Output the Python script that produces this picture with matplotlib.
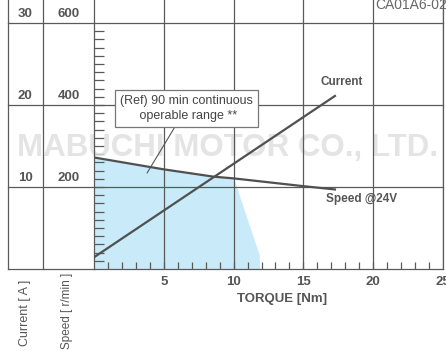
import numpy as np
import matplotlib
matplotlib.use("Agg")
from matplotlib import pyplot as plt

plt.rcParams['font.family'] = ['Liberation Sans', 'DejaVu Sans']

# data
torque_current = [0, 17.26]
current = [1.43, 21.1]

torque_speed = [0, 5, 8.6, 10, 15, 17.26]
speed = [272, 243, 225, 221, 202, 194]

# continuous operable range (torque, speed)
region_torque = [0, 5, 8.6, 10, 11.84, 11.84]
region_speed = [272, 243, 225, 221, 34, 0]

current_ticks = [10, 20, 30]
speed_ticks = [200, 400, 600]
torque_ticks = [5, 10, 15, 20, 25]

SPEED_PER_AMP = 20  # speed axis is drawn on the current scale
GRID = '#5a5a5a'
LINE = '#505050'
TXT = '#555555'

fig = plt.figure(figsize=(4.46, 3.51), dpi=100)
ax = fig.add_axes([94 / 446, 1 - 269 / 351, (443 - 94) / 446, 269 / 351])
ax.set_xlim(0, 25)
ax.set_ylim(0, 32.8)
ax.spines['top'].set_visible(False)
for s in ['left', 'right', 'bottom']:
    ax.spines[s].set_color(GRID)
    ax.spines[s].set_linewidth(0.9)

ax.set_xticks([])
ax.set_yticks([])
# minor ticks drawn inside
ax.set_xticks(np.arange(1, 25), minor=True)
ax.set_yticks(np.arange(1, 30), minor=True)
ax.tick_params(which='minor', direction='in', length=5, width=0.9, color=GRID,
               labelbottom=False, labelleft=False)
ax.tick_params(axis='y', which='minor', length=7)

# region
ry = np.array(region_speed) / SPEED_PER_AMP
ax.fill_between(region_torque, 0, ry, color='#c8eaf9', lw=0, zorder=1)

# watermark (under the lines)
ax.text(228 / 446, 1 - 148 / 351, 'MABUCHI MOTOR CO., LTD.', transform=fig.transFigure,
        ha='center', va='center', fontsize=22.5, fontweight='bold',
        color='#dedede', alpha=0.8, clip_on=False, zorder=2)

# grid
for t in torque_ticks:
    ax.axvline(t, color=GRID, lw=0.9, zorder=3)
for c in current_ticks:
    ax.plot([-6.16, 25], [c, c], color=GRID, lw=0.9, clip_on=False, zorder=3)
ax.plot([-6.16, 0], [0, 0], color=GRID, lw=0.9, clip_on=False, zorder=3)
for xc in [-6.16, -3.67]:
    ax.plot([xc, xc], [0, 32.8], color=GRID, lw=0.9, clip_on=False, zorder=3)

# curves
ax.plot(torque_current, current, color=LINE, lw=1.6, zorder=5)
ax.plot(torque_speed, np.array(speed) / SPEED_PER_AMP, color=LINE, lw=1.6, zorder=5)

# tick labels
for t in torque_ticks:
    ax.text(t, -1.6, str(t), ha='center', va='center', fontsize=9.5,
            fontweight='bold', color=TXT, clip_on=False)
for c, sp in zip(current_ticks, speed_ticks):
    ax.text(-4.92, c + 1.1, str(c), ha='center', va='center', fontsize=9.5,
            fontweight='bold', color=TXT, clip_on=False)
    ax.text(-1.83, c + 1.1, str(sp), ha='center', va='center', fontsize=9.5,
            fontweight='bold', color=TXT, clip_on=False)

ax.text(13.5, -3.6, 'TORQUE [Nm]', ha='center', va='center', fontsize=9.5,
        fontweight='bold', color=TXT, clip_on=False)
fig.text(25 / 446, 1 - 313 / 351, 'Current [ A ]', rotation=90, ha='center',
         va='center', fontsize=9, color=TXT)
fig.text(67 / 446, 1 - 311 / 351, 'Speed [ r/min ]', rotation=90, ha='center',
         va='center', fontsize=8.5, color=TXT)

ax.text(17.77, 22.8, 'Current', ha='center', va='center', fontsize=8.5,
        fontweight='bold', color=TXT)
ax.text(19.2, 8.5, 'Speed @24V', ha='center', va='center', fontsize=8.5,
        fontweight='bold', color=TXT)

# annotation box
ax.annotate('(Ref) 90 min continuous\n operable range **', xy=(3.8, 11.7),
            xytext=(6.6, 19.6), ha='center', va='center', fontsize=9,
            color='#444444', linespacing=1.35, zorder=6,
            bbox=dict(boxstyle='square,pad=0.4', fc='white', ec='#777777', lw=0.9),
            arrowprops=dict(arrowstyle='-', color='#555555', lw=0.8,
                            shrinkA=0, shrinkB=0))

fig.text(375 / 446, 1 - 5 / 351, 'CA01A6-02', ha='left', va='center',
         fontsize=10, color='#666666')

fig.savefig('out.png', dpi=100)
